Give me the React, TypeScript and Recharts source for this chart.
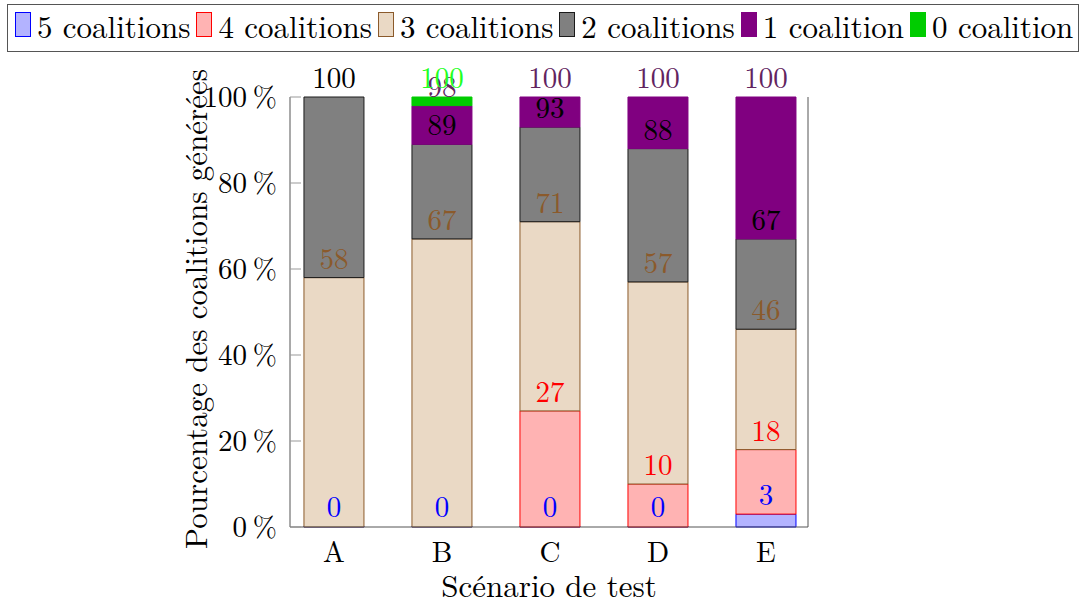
import { BarChart, Bar, XAxis, YAxis, Legend, LabelList } from 'recharts';

const categories = ['A', 'B', 'C', 'D', 'E'];
const seriesNames = [
  '5 coalitions',
  '4 coalitions',
  '3 coalitions',
  '2 coalitions',
  '1 coalition',
  '0 coalition',
];
// part of each bar (in %) taken by each series, bottom to top
const fiveCoalitions = [0, 0, 0, 0, 3];
const fourCoalitions = [0, 0, 27, 10, 15];
const threeCoalitions = [58, 67, 44, 47, 28];
const twoCoalitions = [42, 22, 22, 31, 21];
const oneCoalition = [0, 9, 7, 12, 33];
const zeroCoalition = [0, 2, 0, 0, 0];
const yTicks = [0, 20, 40, 60, 80, 100];

const seriesValues = [
  fiveCoalitions,
  fourCoalitions,
  threeCoalitions,
  twoCoalitions,
  oneCoalition,
  zeroCoalition,
];

const fills = ['#b3b3ff', '#ffb3b3', '#ead9c5', '#808080', '#800080', '#00cc00'];
const strokes = ['#0000ff', '#ff0000', '#8b5a2b', '#1a1a1a', '#800080', '#00cc00'];
const labelColors = ['#0000ff', '#ff0000', '#8b5a2b', '#000000', '#62245f', '#22ff22'];

const FONT = '"Latin Modern Roman", serif';

// running totals, shown above each segment
const cumulative = seriesValues.map((_, s) =>
  categories.map((_, i) =>
    seriesValues.slice(0, s + 1).reduce((sum, vals) => sum + vals[i], 0)
  )
);

const data = categories.map((name, i) => {
  const row: Record<string, number | string> = { x: i, name };
  seriesNames.forEach((key, s) => {
    row[key] = seriesValues[s][i];
    row[`cum${s}`] = cumulative[s][i];
  });
  return row;
});

const makeLabel = (s: number) => (props: any) => {
  const { x, y, width, value } = props;
  return (
    <text
      x={Number(x) + Number(width) / 2}
      y={Number(y) - 9}
      textAnchor="middle"
      fill={labelColors[s]}
      fontSize={29}
      fontFamily={FONT}
    >
      {value}
    </text>
  );
};

function LegendBox() {
  return (
    <div
      style={{
        display: 'flex',
        alignItems: 'center',
        height: 48,
        border: '1.5px solid #555',
        boxSizing: 'border-box',
        paddingLeft: 7,
        paddingBottom: 7,
        fontFamily: FONT,
        fontSize: 31,
        color: '#000',
        whiteSpace: 'nowrap',
      }}
    >
      {seriesNames.map((name, s) => (
        <span key={name} style={{ display: 'flex', alignItems: 'center' }}>
          <span
            style={{
              display: 'inline-block',
              width: 16,
              height: 25,
              background: fills[s],
              border: `1px solid ${strokes[s]}`,
              boxSizing: 'border-box',
              marginRight: 6,
              marginLeft: s === 0 ? 0 : 6,
            }}
          />
          <span>{name}</span>
        </span>
      ))}
    </div>
  );
}

function App() {
  return (
    <div style={{ position: 'absolute', left: 0, top: 0, width: 1081, height: 605 }}>
      <BarChart
        width={1081}
        height={605}
        data={data}
        margin={{ top: 97, right: 263, bottom: 18, left: 190 }}
      >
        <Legend
          verticalAlign="middle"
          align="center"
          content={() => <LegendBox />}
          wrapperStyle={{ top: 4, left: 7, width: 1072, height: 48 }}
        />
        <XAxis
          dataKey="x"
          type="number"
          domain={[-0.407, 4.389]}
          allowDataOverflow
          ticks={categories.map((_, i) => i)}
          tickFormatter={(v) => categories[v] ?? ''}
          tickLine={false}
          axisLine={{ stroke: '#555' }}
          height={60}
          tickMargin={8}
          tick={{ fill: '#000', fontSize: 29, fontFamily: FONT }}
          label={{
            content: (props: any) => {
              const { x, y, width } = props.viewBox;
              return (
                <text
                  x={x + width / 2}
                  y={y + 70}
                  textAnchor="middle"
                  fontSize={31}
                  fontFamily={FONT}
                  fill="#000"
                >
                  Scénario de test
                </text>
              );
            },
          }}
        />
        <XAxis
          xAxisId="top"
          dataKey="x"
          type="number"
          orientation="top"
          domain={[-0.407, 4.389]}
          allowDataOverflow
          height={0}
          tick={false}
          tickLine={false}
          axisLine={{ stroke: '#555' }}
        />
        <YAxis
          domain={[0, 100]}
          ticks={yTicks}
          width={100}
          tickSize={-11}
          tickMargin={24}
          tickLine={{ stroke: '#999' }}
          axisLine={{ stroke: '#555' }}
          tickFormatter={(v) => `${v}\u2009%`}
          tick={{ fill: '#000', fontSize: 29, fontFamily: FONT }}
          label={{
            content: (props: any) => {
              const { x, y, height } = props.viewBox;
              const cx = x + 4;
              const cy = y + height / 2 - 3;
              return (
                <text
                  x={cx}
                  y={cy}
                  transform={`rotate(-90, ${cx}, ${cy})`}
                  textAnchor="middle"
                  dominantBaseline="central"
                  fontSize={31}
                  fontFamily={FONT}
                  fill="#000"
                >
                  Pourcentage des coalitions générées
                </text>
              );
            },
          }}
        />
        <YAxis
          yAxisId="right"
          orientation="right"
          domain={[0, 100]}
          ticks={yTicks}
          width={10}
          tickSize={-11}
          tickLine={{ stroke: '#999' }}
          axisLine={{ stroke: '#555' }}
          tick={() => <g />}
        />
        {seriesNames.map((name, s) => (
          <Bar
            key={name}
            dataKey={name}
            stackId="total"
            barSize={60}
            minPointSize={s === 0 ? 1 : 0}
            fill={fills[s]}
            stroke={strokes[s]}
            strokeWidth={1}
            isAnimationActive={false}
          >
            <LabelList dataKey={`cum${s}`} content={makeLabel(s)} />
          </Bar>
        ))}
      </BarChart>
    </div>
  );
}

export default App;
